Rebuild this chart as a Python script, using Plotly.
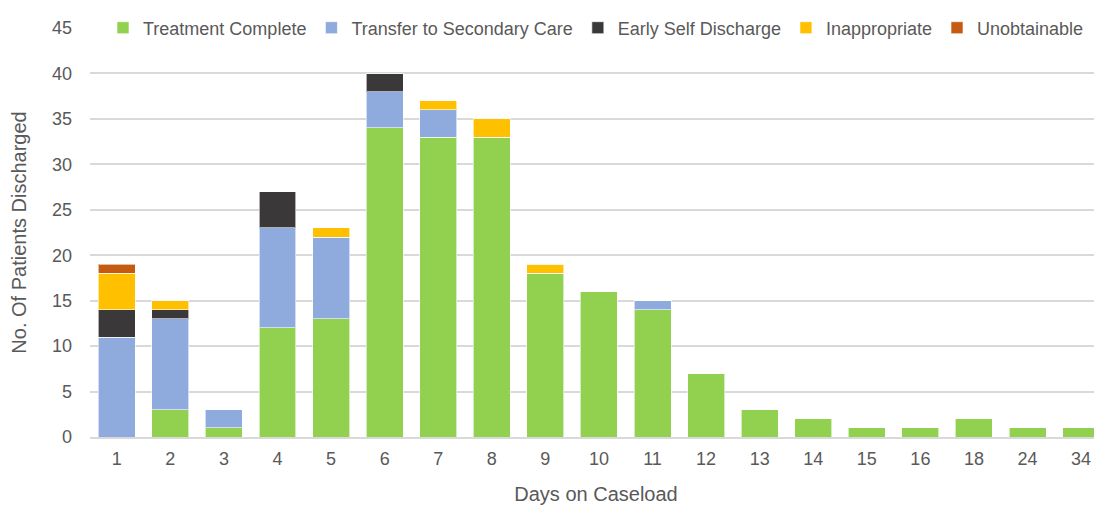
import plotly.graph_objects as go

days = ["1", "2", "3", "4", "5", "6", "7", "8", "9", "10", "11", "12", "13", "14", "15", "16", "18", "24", "34"]
treatment_complete = [0, 3, 1, 12, 13, 34, 33, 33, 18, 16, 14, 7, 3, 2, 1, 1, 2, 1, 1]
transfer_secondary = [11, 10, 2, 11, 9, 4, 3, 0, 0, 0, 1, 0, 0, 0, 0, 0, 0, 0, 0]
early_self_discharge = [3, 1, 0, 4, 0, 2, 0, 0, 0, 0, 0, 0, 0, 0, 0, 0, 0, 0, 0]
inappropriate = [4, 1, 0, 0, 1, 0, 1, 2, 1, 0, 0, 0, 0, 0, 0, 0, 0, 0, 0]
unobtainable = [1, 0, 0, 0, 0, 0, 0, 0, 0, 0, 0, 0, 0, 0, 0, 0, 0, 0, 0]

series = [
    ("Treatment Complete", treatment_complete, "#92D050"),
    ("Transfer to Secondary Care", transfer_secondary, "#8FAADC"),
    ("Early Self Discharge", early_self_discharge, "#3A3838"),
    ("Inappropriate", inappropriate, "#FFC000"),
    ("Unobtainable", unobtainable, "#C55A11"),
]

fig = go.Figure()
for name, vals, col in series:
    fig.add_trace(go.Bar(
        x=days, y=vals, name=name,
        marker=dict(color=col, line=dict(color="rgba(255,255,255,0.6)", width=1)),
    ))

font_color = "#595959"
# page body has an 8px margin, so the figure is sized/offset to compensate
fig.update_layout(
    barmode="stack",
    bargap=0.31,
    width=1094, height=497,
    margin=dict(l=82, r=0, t=20, b=68, autoexpand=False),
    paper_bgcolor="white", plot_bgcolor="white",
    font=dict(family="Liberation Sans, Arial, sans-serif", size=18, color=font_color),
    legend=dict(
        orientation="h", x=0.50, xanchor="center", y=1.0, yanchor="middle",
        bgcolor="white", font=dict(size=18, color=font_color),
        traceorder="normal", itemwidth=30, tracegroupgap=0,
    ),
    showlegend=True,
)
fig.update_xaxes(
    type="category", range=[-0.5, 18.39],
    title=dict(text="Days on Caseload", font=dict(size=20, color=font_color), standoff=20),
    showgrid=False, showline=True, linecolor="#D9D9D9", linewidth=2,
    ticks="", ticklabelstandoff=4, tickfont=dict(size=18, color=font_color),
)
fig.update_yaxes(
    range=[0, 45], dtick=5,
    title=dict(text="No. Of Patients Discharged", font=dict(size=20, color=font_color), standoff=19),
    showgrid=True, gridcolor="#D9D9D9", gridwidth=1.5,
    zeroline=False, showline=False,
    ticks="", ticklabelstandoff=17, tickfont=dict(size=18, color=font_color),
)

fig.write_html("out.html")
